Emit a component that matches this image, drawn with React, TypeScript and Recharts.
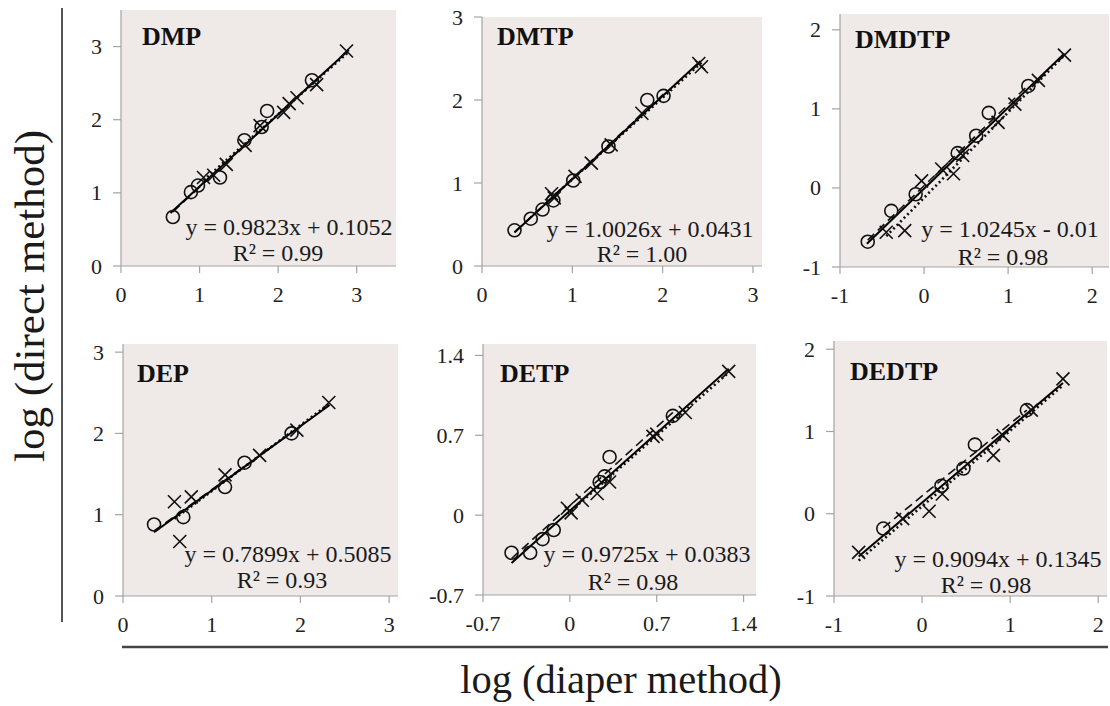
import React from 'react';
import { ScatterChart, Scatter, XAxis, YAxis, CartesianGrid } from 'recharts';

type P = [number, number];

// ---- panel names, equations ----
const panelNames = ['DMP', 'DMTP', 'DMDTP', 'DEP', 'DETP', 'DEDTP'];
const equations = [
  'y = 0.9823x + 0.1052',
  'y = 1.0026x + 0.0431',
  'y = 1.0245x - 0.01',
  'y = 0.7899x + 0.5085',
  'y = 0.9725x + 0.0383',
  'y = 0.9094x + 0.1345',
];
const r2Labels = ['R² = 0.99', 'R² = 1.00', 'R² = 0.98', 'R² = 0.93', 'R² = 0.98', 'R² = 0.98'];

// ---- axis domains & ticks ----
const xDomains: P[] = [[0, 3.5], [0, 3.1], [-1, 2.2], [0, 3.1], [-0.7, 1.5], [-1, 2.1]];
const yDomains: P[] = [[0, 3.5], [0, 3], [-1, 2.2], [0, 3.1], [-0.7, 1.5], [-1, 2.1]];
const xTicks = [[0, 1, 2, 3], [0, 1, 2, 3], [-1, 0, 1, 2], [0, 1, 2, 3], [-0.7, 0, 0.7, 1.4], [-1, 0, 1, 2]];
const yTicks = [[0, 1, 2, 3], [0, 1, 2, 3], [-1, 0, 1, 2], [0, 1, 2, 3], [-0.7, 0, 0.7, 1.4], [-1, 0, 1, 2]];

// ---- data: circles (o) and crosses (x) ----
const dmpCircles: P[] = [[0.66, 0.67], [0.89, 1.01], [0.98, 1.1], [1.26, 1.21], [1.57, 1.72], [1.79, 1.9], [1.86, 2.12], [2.43, 2.54]];
const dmpCrosses: P[] = [[1.05, 1.21], [1.18, 1.24], [1.34, 1.39], [1.58, 1.65], [1.77, 1.92], [2.07, 2.1], [2.14, 2.22], [2.24, 2.3], [2.49, 2.48], [2.87, 2.94]];

const dmtpCircles: P[] = [[0.36, 0.43], [0.54, 0.57], [0.67, 0.68], [0.79, 0.79], [1.01, 1.03], [1.4, 1.44], [1.83, 2.0], [2.01, 2.05]];
const dmtpCrosses: P[] = [[0.77, 0.87], [0.8, 0.82], [1.03, 1.08], [1.21, 1.24], [1.43, 1.46], [1.77, 1.84], [2.4, 2.44], [2.43, 2.4]];

const dmdtpCircles: P[] = [[-0.67, -0.68], [-0.39, -0.29], [-0.1, -0.08], [0.4, 0.44], [0.62, 0.66], [0.77, 0.95], [1.24, 1.29]];
const dmdtpCrosses: P[] = [[-0.45, -0.56], [-0.23, -0.54], [-0.03, 0.09], [0.21, 0.24], [0.35, 0.18], [0.46, 0.41], [0.88, 0.83], [1.08, 1.06], [1.36, 1.36], [1.67, 1.68]];

const depCircles: P[] = [[0.35, 0.88], [0.68, 0.97], [1.15, 1.34], [1.37, 1.64], [1.9, 2.0]];
const depCrosses: P[] = [[0.58, 1.16], [0.77, 1.22], [0.64, 0.67], [1.15, 1.49], [1.54, 1.73], [1.96, 2.04], [2.32, 2.38]];

const detpCircles: P[] = [[-0.47, -0.33], [-0.32, -0.33], [-0.22, -0.21], [-0.13, -0.13], [0.24, 0.29], [0.28, 0.34], [0.32, 0.51], [0.83, 0.87]];
const detpCrosses: P[] = [[-0.02, 0.06], [0.01, 0.02], [0.1, 0.13], [0.22, 0.19], [0.32, 0.29], [0.67, 0.69], [0.7, 0.71], [0.93, 0.9], [1.28, 1.26]];

const dedtpCircles: P[] = [[-0.44, -0.18], [0.22, 0.34], [0.47, 0.55], [0.6, 0.84], [1.19, 1.26]];
const dedtpCrosses: P[] = [[-0.72, -0.47], [-0.22, -0.06], [0.08, 0.03], [0.23, 0.24], [0.81, 0.71], [0.92, 0.95], [1.24, 1.26], [1.6, 1.64]];

// ---- trend lines (end points): solid = all, dashed = circles, dotted = crosses ----
const solidFits: P[][] = [
  [[0.63, 0.724], [2.9, 2.954]],
  [[0.36, 0.404], [2.42, 2.469]],
  [[-0.68, -0.707], [1.67, 1.701]],
  [[0.35, 0.785], [2.33, 2.349]],
  [[-0.47, -0.419], [1.28, 1.283]],
  [[-0.72, -0.52], [1.6, 1.59]],
];
const dashedFits: P[][] = [
  [[0.66, 0.74], [2.45, 2.52]],
  [[0.36, 0.41], [2.01, 2.07]],
  [[-0.67, -0.66], [1.24, 1.3]],
  [[0.35, 0.8], [1.9, 2.01]],
  [[-0.47, -0.38], [0.83, 0.9]],
  [[-0.44, -0.17], [1.19, 1.26]],
];
const dottedFits: P[][] = [
  [[1.05, 1.17], [2.9, 2.93]],
  [[0.77, 0.82], [2.43, 2.45]],
  [[-0.45, -0.61], [1.67, 1.68]],
  [[0.58, 0.95], [2.32, 2.36]],
  [[-0.02, 0.01], [1.28, 1.25]],
  [[-0.72, -0.57], [1.6, 1.56]],
];

const circleSets = [dmpCircles, dmtpCircles, dmdtpCircles, depCircles, detpCircles, dedtpCircles];
const crossSets = [dmpCrosses, dmtpCrosses, dmdtpCrosses, depCrosses, detpCrosses, dedtpCrosses];

// ---- layout ----
const plotRects = [
  { left: 121, top: 10, w: 275, h: 256 },
  { left: 482, top: 17, w: 280, h: 249 },
  { left: 840, top: 14, w: 269, h: 253 },
  { left: 123, top: 344, w: 275, h: 252 },
  { left: 483, top: 344, w: 273, h: 251 },
  { left: 834, top: 341, w: 273, h: 255 },
];
const titlePos = [[142, 45], [497, 45], [855, 48], [137, 382], [500, 382], [850, 380]];
const eqPos = [[289, 235], [650, 237], [1010, 237], [288, 562], [647, 562], [998, 567]];
const r2Pos = [[278, 261], [642, 262], [1003, 265], [282, 588], [633, 590], [986, 593]];

const SERIF = "'Liberation Serif', 'Times New Roman', serif";
const BG = '#efe9e8';
const AXIS = '#a3a3a3';
const YW = 60;
const XH = 45;
const MT = 16;
const MR = 2;

const toPts = (a: P[]) => a.map(([x, y]) => ({ x, y }));

const CircleShape = (p: any) => (
  <circle cx={p.cx} cy={p.cy} r={6.5} fill="none" stroke="#111" strokeWidth={1.6} />
);
const CrossShape = (p: any) => {
  const s = 6.5;
  return (
    <path
      d={`M${p.cx - s},${p.cy - s}L${p.cx + s},${p.cy + s}M${p.cx - s},${p.cy + s}L${p.cx + s},${p.cy - s}`}
      stroke="#111"
      strokeWidth={1.6}
      fill="none"
    />
  );
};
const NoShape = () => <g />;

const XTick = (p: any) => (
  <text x={p.x} y={p.y} dy={16} textAnchor="middle" fontFamily={SERIF} fontSize={22} fill="#222">
    {p.payload.value}
  </text>
);
const YTick = (p: any) => (
  <text x={p.x} y={p.y} dy={7.5} textAnchor="end" fontFamily={SERIF} fontSize={22} fill="#222">
    {p.payload.value}
  </text>
);

function Panel({ i }: { i: number }) {
  const r = plotRects[i];
  return (
    <div style={{ position: 'absolute', left: r.left - YW, top: r.top - MT }}>
      <ScatterChart width={r.w + YW + MR} height={r.h + MT + XH} margin={{ top: MT, right: MR, left: 0, bottom: 0 }}>
        <CartesianGrid horizontal={false} vertical={false} fill={BG} stroke="none" />
        <XAxis
          type="number"
          dataKey="x"
          domain={xDomains[i]}
          ticks={xTicks[i]}
          interval={0}
          height={XH}
          axisLine={{ stroke: AXIS, strokeWidth: 1.2 }}
          tickLine={{ stroke: AXIS, strokeWidth: 1.2 }}
          tickSize={7}
          tickMargin={13}
          tick={XTick}
        />
        <YAxis
          type="number"
          dataKey="y"
          domain={yDomains[i]}
          ticks={yTicks[i]}
          interval={0}
          width={YW}
          axisLine={{ stroke: AXIS, strokeWidth: 1.2 }}
          tickLine={{ stroke: AXIS, strokeWidth: 1.2 }}
          tickSize={8}
          tickMargin={11}
          tick={YTick}
        />
        <Scatter data={toPts(dottedFits[i])} line={{ stroke: '#111', strokeWidth: 2.6, strokeDasharray: '2 3' }} shape={NoShape} isAnimationActive={false} />
        <Scatter data={toPts(dashedFits[i])} line={{ stroke: '#111', strokeWidth: 1.6, strokeDasharray: '9 5' }} shape={NoShape} isAnimationActive={false} />
        <Scatter data={toPts(solidFits[i])} line={{ stroke: '#000', strokeWidth: 2 }} shape={NoShape} isAnimationActive={false} />
        <Scatter data={toPts(circleSets[i])} shape={CircleShape} isAnimationActive={false} />
        <Scatter data={toPts(crossSets[i])} shape={CrossShape} isAnimationActive={false} />
      </ScatterChart>
    </div>
  );
}

export default function App() {
  return (
    <div style={{ position: 'absolute', left: 0, top: 0, width: 1110, height: 706, background: '#fff', overflow: 'hidden' }}>
      {panelNames.map((_, i) => (
        <Panel key={i} i={i} />
      ))}
      <svg width={1110} height={706} style={{ position: 'absolute', left: 0, top: 0, pointerEvents: 'none' }}>
        <line x1={62} y1={8} x2={62} y2={622} stroke="#555" strokeWidth={2} />
        <line x1={122} y1={647} x2={1108} y2={647} stroke="#444" strokeWidth={2.5} />
        <text
          x={0}
          y={0}
          transform="translate(44,296) rotate(-90)"
          textAnchor="middle"
          fontFamily={SERIF}
          fontSize={43}
          fill="#1a1a1a"
        >
          log (direct method)
        </text>
        <text x={621} y={693} textAnchor="middle" fontFamily={SERIF} fontSize={40.5} fill="#1a1a1a">
          log (diaper method)
        </text>
        {panelNames.map((n, i) => (
          <g key={n}>
            <text x={titlePos[i][0]} y={titlePos[i][1]} fontFamily={SERIF} fontSize={26} fontWeight="bold" fill="#111">
              {n}
            </text>
            <text x={eqPos[i][0]} y={eqPos[i][1]} textAnchor="middle" fontFamily={SERIF} fontSize={24} fill="#1a1a1a">
              {equations[i]}
            </text>
            <text x={r2Pos[i][0]} y={r2Pos[i][1]} textAnchor="middle" fontFamily={SERIF} fontSize={24} fill="#1a1a1a">
              {r2Labels[i]}
            </text>
          </g>
        ))}
      </svg>
    </div>
  );
}
